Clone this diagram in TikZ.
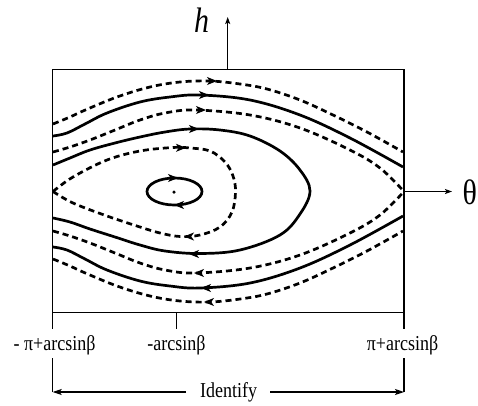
\documentclass[tikz,border=0pt]{standalone}
\usepackage{graphicx}
\usepackage{fontspec}
\setmainfont{Liberation Serif}
\usetikzlibrary{arrows.meta}
\newcommand\tallt[1]{\scalebox{1}[1.18]{#1}}
\begin{document}
\begin{tikzpicture}[x=1pt,y=-1pt,
  frame/.style={line width=1.4pt},
  axis/.style={line width=1.2pt},
  sol/.style={line width=2.7pt},
  dsh/.style={line width=2.7pt, dash pattern=on 6pt off 4pt},
  fl/.style={-{Stealth[length=10pt,width=8pt,inset=2.8pt]}, line width=1pt},
  ax/.style={axis,-{Stealth[length=7pt,width=5pt,inset=1.5pt]}},
  lbl/.style={font=\fontsize{18}{18}\selectfont, inner sep=0pt, anchor=base},
  smoothp/.style={smooth, tension=0.6}
]
\useasboundingbox (0,0) rectangle (478,405);
% frame
\coordinate (TL) at (52.7,69.3);
\coordinate (BR) at (404,312.7);
\coordinate (hb) at (227.7,69.3);
\coordinate (ht) at (227.7,17);
\coordinate (tb) at (404,191.5);
\coordinate (tt) at (452,191.5);
\draw[frame] (TL) rectangle (BR);
\draw[ax] (hb) -- (ht);
\draw[ax] (tb) -- (tt);
\node[font=\fontsize{30}{30}\selectfont\itshape, inner sep=0pt, anchor=base] (hl) at (201.5,32) {\tallt{h}};
\node[font=\fontsize{30}{30}\selectfont, inner sep=0pt, anchor=base west] (thl) at (462.5,204) {\tallt{θ}};
% ticks
\coordinate (k1a) at (52.7,312.7); \coordinate (k1b) at (52.7,329);
\coordinate (k2a) at (176.7,312.7); \coordinate (k2b) at (176.7,329);
\coordinate (k3a) at (404,312.7); \coordinate (k3b) at (404,329);
\draw[axis] (k1a) -- (k1b);
\draw[axis] (k2a) -- (k2b);
\draw[axis] (k3a) -- (k3b);
\node[lbl] (l1) at (54.5,350) {\tallt{- π+arcsinβ}};
\node[lbl] (l2) at (176.5,350) {\tallt{-arcsinβ}};
\node[lbl] (l3) at (402.5,350) {\tallt{π+arcsinβ}};
% identify bracket
\coordinate (i1a) at (52.7,358); \coordinate (i1b) at (52.7,392);
\coordinate (i3a) at (404,358); \coordinate (i3b) at (404,392);
\coordinate (ila) at (186,392); \coordinate (ira) at (270,392);
\node[lbl] (idf) at (228.5,397) {\tallt{Identify}};
\draw[axis] (i1a) -- (i1b);
\draw[axis] (i3a) -- (i3b);
\draw[axis,-{Stealth[length=9pt,width=6pt,inset=2pt]}] (ila) -- (i1b);
\draw[axis,-{Stealth[length=9pt,width=6pt,inset=2pt]}] (ira) -- (i3b);
% curves top
\draw[dsh] plot[smoothp] coordinates {(53,124) (70,117) (83,111) (117,97) (150,87) (180,82) (210,81) (240,84) (267,89) (300,100) (333,115) (367,132) (403,152)};
\draw[sol] plot[smoothp] coordinates {(53,136) (67,133) (85,124) (107,113) (140,102) (170,97) (200,95) (250,100) (300,115) (350,138) (403,167)};
\draw[dsh] plot[smoothp] coordinates {(53,152) (70,147) (90,140) (115,130) (140,120) (165,113) (195,110) (250,115) (300,128) (350,150) (380,168) (404,191.5)};
\draw[sol] plot[smoothp] coordinates {(53,165) (70,158) (90,150) (115,143) (140,137) (165,132) (190,129) (220,130) (250,136) (280,151) (300,170) (310,191) (300,214) (280,235) (240,250) (200,253.5) (165,251) (140,245) (115,237) (90,229) (70,222) (53,218)};
\draw[dsh] plot[smoothp] coordinates {(53,191.5) (73,177) (107,160) (140,151) (173,147.5) (190,148) (210,151) (225,162) (233,176) (235.5,192) (232,212) (220,227) (200,235) (180,236.5) (160,233) (140,227) (107,216) (73,203) (53,191.5)};
% curves bottom
\draw[dsh] plot[smoothp] coordinates {(53,231) (70,236) (90,243) (115,253) (140,263) (165,270) (195,273) (250,268) (300,255) (350,233) (380,215) (404,191.5)};
\draw[sol] plot[smoothp] coordinates {(53,247) (67,250) (85,259) (107,270) (140,281) (170,286) (200,288) (250,283) (300,268) (350,245) (403,216)};
\draw[dsh] plot[smoothp] coordinates {(53,259) (70,266) (83,272) (117,286) (150,296) (180,301) (210,302) (240,299) (267,294) (300,283) (333,268) (367,251) (403,231)};
% center
\draw[sol] (174.5,191.5) ellipse [x radius=27.5, y radius=13.5];
\node[circle, fill, inner sep=0pt, minimum size=3.5pt] (c0) at (174,192) {};
% arrow tips
\coordinate (a1) at (217,81);
\coordinate (a2) at (209,95);
\coordinate (a3) at (206,110);
\coordinate (a4) at (199,129);
\coordinate (a5) at (186,147.8);
\coordinate (a6) at (178,178);
\coordinate (b6) at (174,205);
\coordinate (b5) at (184,236.5);
\coordinate (b4) at (189,254);
\coordinate (b3) at (194,273);
\coordinate (b2) at (201,288);
\coordinate (b1) at (204,302);
\foreach \p in {a1,a2,a3,a4,a5,a6} {\draw[fl] ([xshift=-3pt]\p) -- (\p);}
\foreach \p in {b1,b2,b3,b4,b5,b6} {\draw[fl] ([xshift=3pt]\p) -- (\p);}
\end{tikzpicture}
\end{document}
